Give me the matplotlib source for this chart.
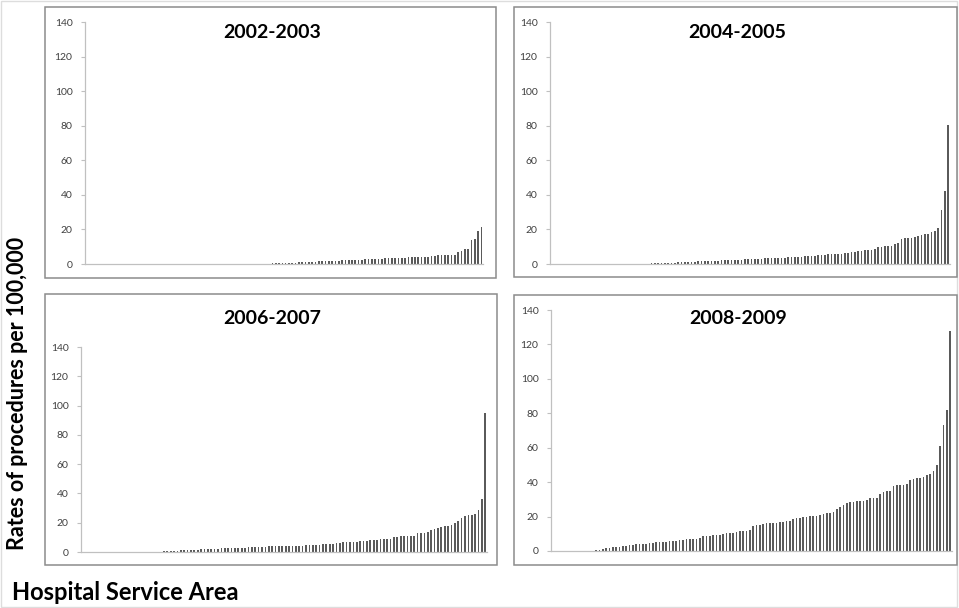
import matplotlib.pyplot as plt
from matplotlib.patches import Rectangle

plt.rcParams['font.family'] = ['Lato', 'DejaVu Sans']

# rates per 100,000, one bar per Hospital Service Area, sorted ascending
rates_2002 = [0] * 54 + [
    0.2, 0.2, 0.3, 0.3, 0.4, 0.5, 0.5, 0.6, 0.7, 0.8, 0.9,
    1.0, 1.0, 1.2, 1.3, 1.4, 1.5,
    1.6, 1.7, 1.8, 1.9, 2.0, 2.0,
    2.1, 2.2, 2.2, 2.3, 2.4, 2.5,
    2.6, 2.7, 2.8, 2.9, 3.0, 3.0,
    3.1, 3.2, 3.3, 3.4, 3.5, 3.5,
    3.6, 3.7, 3.8, 3.8, 3.9, 3.9, 4.0, 4.0, 4.2, 4.5,
    4.8, 5.0, 5.0, 5.0, 5.1, 5.2, 5.3,
    7.0, 7.5, 8.5, 8.8, 13.8, 14.5, 19.0, 21.6]

rates_2004 = [0] * 30 + [
    0.3, 0.3, 0.4, 0.5, 0.5, 0.6, 0.7, 0.8, 0.9, 1.0,
    1.1, 1.2, 1.3, 1.4, 1.5, 1.6, 1.7, 1.8, 1.9, 2.0,
    2.0, 2.1, 2.2, 2.3, 2.4, 2.5, 2.5, 2.6,
    2.8, 2.9, 3.0, 3.0, 3.0, 3.1, 3.2, 3.2, 3.3, 3.4,
    3.5, 3.6, 3.7, 3.8, 3.9, 4.0, 4.0, 4.2,
    4.5, 4.7, 4.8, 4.9, 5.0, 5.0,
    5.3, 5.5, 5.6, 5.7, 5.8,
    6.0, 6.3, 6.6, 7.0, 7.2,
    7.6, 7.8, 8.0, 8.1, 8.3, 8.6,
    9.8, 10.0, 10.2, 10.4, 10.5,
    11.5, 12.0,
    14.5, 14.8, 15.0, 15.3, 15.6, 16.0, 16.5,
    17.5, 17.5, 18.5, 19.0,
    21.0, 31.5, 42.0, 80.5]

rates_2006 = [0] * 23 + [
    0.3, 0.5, 0.6, 0.8, 0.9, 1.0,
    1.2, 1.3, 1.4, 1.5, 1.6, 1.7, 1.8, 1.9, 2.0, 2.0,
    2.2, 2.3, 2.4, 2.5, 2.6, 2.7, 2.8, 2.9, 3.0, 3.0,
    3.2, 3.3, 3.4, 3.5, 3.5, 3.6,
    3.8, 3.9, 4.0, 4.0, 4.0, 4.1, 4.1, 4.2, 4.2, 4.3, 4.4, 4.5,
    4.6, 4.8, 4.9, 5.0,
    5.3, 5.5, 5.6, 5.8, 6.0,
    6.4, 6.6, 6.8, 7.0, 7.0, 7.1,
    7.4, 7.6, 7.8, 7.9, 8.0, 8.1,
    8.6, 8.8, 9.0, 9.2,
    10.2, 10.5, 10.6, 10.8, 11.0, 11.0, 11.2,
    12.8, 13.0, 13.2, 13.5,
    15.0, 15.8, 16.3, 16.8,
    17.5, 18.0, 18.5, 20.0,
    21.5, 23.5, 24.5, 25.0, 25.5, 26.0, 29.0, 36.5, 95.0]

rates_2008 = [0] * 13 + [
    0.3, 0.6, 1.0, 1.5, 2.0, 2.5, 2.5, 2.6,
    3.0, 3.0, 3.2, 3.5,
    3.8, 4.0, 4.0, 4.2,
    4.6, 4.8, 5.0, 5.0, 5.2,
    5.5, 5.6, 6.0, 6.0,
    6.5, 6.5, 6.8,
    7.0, 7.0, 7.2, 7.5,
    8.5, 8.5, 8.5,
    9.2, 9.5, 9.5,
    10.0, 10.2, 10.5, 10.5,
    11.2, 11.5, 11.5, 11.8, 12.0,
    14.5, 15.0, 15.2, 15.5, 16.0, 16.0, 16.2, 16.5,
    17.0, 17.0, 17.2, 17.5,
    18.5, 19.0, 19.2, 19.5, 19.8,
    20.2, 20.5, 20.5, 20.8,
    21.5, 22.0, 22.0, 22.5,
    24.5, 25.5, 27.0, 28.0, 28.5, 28.5, 28.8, 29.0, 29.2, 29.5,
    30.5, 30.5, 30.8,
    33.0, 34.0, 35.0, 35.0,
    37.5, 38.5, 38.5, 38.5, 39.0,
    41.0, 42.0, 42.5, 42.5, 43.0,
    44.0, 44.5, 46.5,
    50.0, 61.0, 73.0, 82.0, 128.0]

periods = ['2002-2003', '2004-2005', '2006-2007', '2008-2009']
series = [rates_2002, rates_2004, rates_2006, rates_2008]
yticks = [0, 20, 40, 60, 80, 100, 120, 140]

W, H = 959, 608
fig = plt.figure(figsize=(W / 100, H / 100), dpi=100)


def fx(px):
    return px / W


def fy(py):
    return 1 - py / H


# panel layout in pixels: frame box (x0, y0, x1, y1), axes (x0, ytop, x1, ybottom), title (x, y)
frames = [(45, 7, 496, 278), (514, 7, 957, 277), (45, 294, 497, 565), (514, 295, 957, 565)]
axboxes = [(85, 22, 483, 264), (550, 22, 950, 264), (81, 347, 487, 552), (551, 310, 952, 551)]
titles_xy = [(272, 32), (737, 32), (272, 319), (738, 318)]

# faint outer border
fig.patches.append(Rectangle((0.001, 0.001), 0.997, 0.997, transform=fig.transFigure,
                             fill=False, ec='#dddddd', lw=1))

for frame, box, txy, period, vals in zip(frames, axboxes, titles_xy, periods, series):
    x0, y0, x1, y1 = frame
    fig.patches.append(Rectangle((fx(x0), fy(y1)), fx(x1 - x0), (y1 - y0) / H,
                                 transform=fig.transFigure, fill=False,
                                 ec='#8c8c8c', lw=1.1))
    ax0, at, ax1, ab = box
    ax = fig.add_axes([fx(ax0), fy(ab), fx(ax1 - ax0), (ab - at) / H])
    n = len(vals)
    ax.bar(range(n), vals, width=0.5, color='#5a5a5a', lw=0)
    ax.set_xlim(-0.5, n - 0.5)
    ax.set_ylim(0, 140)
    ax.set_yticks(yticks)
    ax.set_xticks([])
    for s in ['top', 'right']:
        ax.spines[s].set_visible(False)
    for s in ['left', 'bottom']:
        ax.spines[s].set_color('#c0c0c0')
        ax.spines[s].set_linewidth(0.9)
    ax.tick_params(axis='y', length=3, width=0.8, color='#c0c0c0',
                   labelsize=7.5, labelcolor='#404040', pad=6)
    ax.patch.set_alpha(0)
    fig.text(fx(txy[0]), fy(txy[1]), period, ha='center', va='center',
             fontsize=14, fontweight='bold', color='black')

fig.text(fx(18), fy(393), 'Rates of procedures per 100,000', rotation=90,
         ha='center', va='center', fontsize=15.5, fontweight='bold')
fig.text(fx(12), fy(592), 'Hospital Service Area', ha='left', va='center',
         fontsize=17, fontweight='bold')

fig.savefig('out.png', dpi=100)
